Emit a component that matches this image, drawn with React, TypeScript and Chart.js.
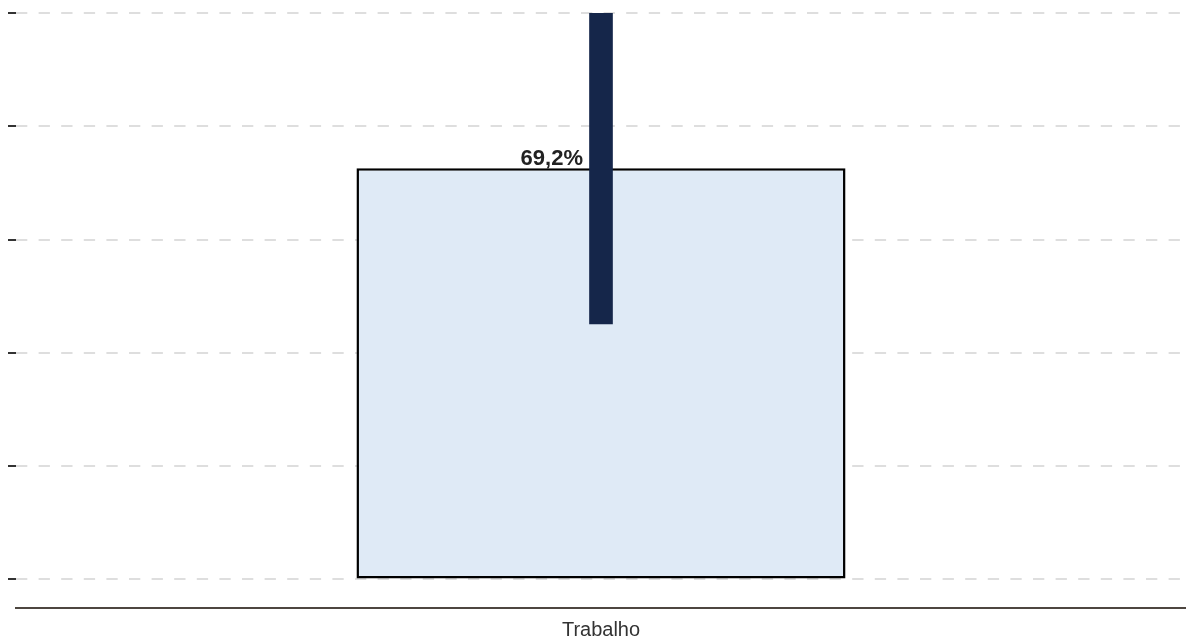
import React, { useEffect, useRef } from "react";
import { Chart, registerables } from "chart.js";

Chart.register(...registerables);

const categories: string[] = ["Trabalho"];
const values: number[] = [69.2];
const errorLow: number[] = [43.0];
const errorHigh: number[] = [100];
const valueLabels: string[] = ["69,2%"];
const yTickValues: number[] = [0, 19.07, 38.14, 57.21, 76.28, 95.35];
const yMin = -4.8;
const yMax = 95.35;

const FONT = "'Liberation Sans', Arial, Helvetica, sans-serif";

const labelPlugin = {
  id: "valueLabels",
  afterDatasetsDraw(chart: any) {
    const ctx = chart.ctx;
    const meta = chart.getDatasetMeta(0);
    ctx.save();
    ctx.font = `bold 22px ${FONT}`;
    ctx.fillStyle = "#222222";
    ctx.textAlign = "right";
    ctx.textBaseline = "alphabetic";
    meta.data.forEach((el: any, i: number) => {
      ctx.fillText(valueLabels[i], el.x - 18, el.y - 3);
    });
    ctx.restore();
  },
};

export default function App() {
  const ref = useRef<HTMLCanvasElement | null>(null);
  useEffect(() => {
    if (!ref.current) return;
    const chart = new Chart(ref.current, {
      type: "bar",
      data: {
        labels: categories,
        datasets: [
          {
            data: values,
            backgroundColor: "#dfeaf6",
            borderColor: "#000000",
            borderWidth: 2.5,
            borderSkipped: false,
            barPercentage: 0.418,
            categoryPercentage: 1,
            grouped: false,
            order: 2,
          },
          {
            data: errorLow.map((lo, i) => [lo, errorHigh[i]]),
            backgroundColor: "#15264a",
            borderWidth: 0,
            barThickness: 23,
            grouped: false,
            order: 1,
          },
        ],
      },
      options: {
        animation: false,
        responsive: true,
        maintainAspectRatio: false,
        layout: { padding: { left: 8, top: 13, right: 0, bottom: -8 } },
        plugins: {
          legend: { display: false },
          tooltip: { enabled: false },
        },
        scales: {
          x: {
            grid: { display: false, drawTicks: false },
            border: { display: true, color: "#4d4640", width: 2 },
            ticks: {
              padding: 10,
              color: "#333333",
              font: { family: FONT, size: 20 },
            },
          },
          y: {
            min: yMin,
            max: yMax,
            afterBuildTicks: (scale: any) => {
              scale.ticks = yTickValues.map((v) => ({ value: v }));
            },
            grid: {
              color: "#dedede",
              lineWidth: 2,
              drawTicks: true,
              tickLength: 8,
              tickColor: "#333333",
              tickWidth: 2,
              tickBorderDash: [],
            },
            border: { display: false, dash: [11.3, 11.3] },
            ticks: { display: false },
          },
        },
      },
      plugins: [labelPlugin],
    });
    return () => chart.destroy();
  }, []);
  return (
    <div style={{ position: "absolute", left: 0, top: 0, width: 1186, height: 644 }}>
      <canvas ref={ref} />
    </div>
  );
}
